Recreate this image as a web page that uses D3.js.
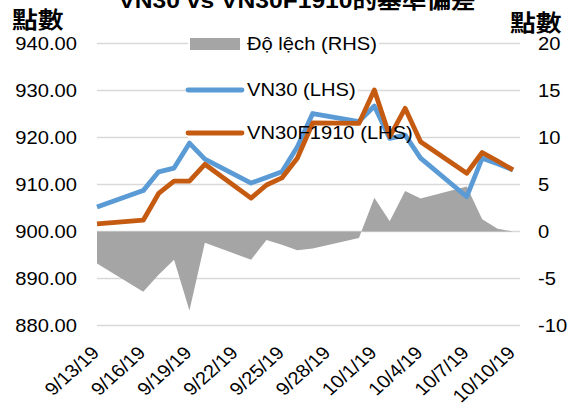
<!DOCTYPE html>
<html lang="en">
<head>
<meta charset="UTF-8">
<title>VN30 vs VN30F1910</title>
<style>
    body { margin: 0; background: #fff; }
    text { font-family: "Liberation Sans", Arial, "Noto Sans CJK TC", sans-serif; }
</style>
</head>
<body>
<script src="https://d3js.org/d3.v7.min.js"></script>
<svg id="chart"></svg>
<script>
    // trading days and values
    var dates = ["2019-09-13", "2019-09-16", "2019-09-17", "2019-09-18", "2019-09-19", "2019-09-20",
                 "2019-09-23", "2019-09-24", "2019-09-25", "2019-09-26", "2019-09-27", "2019-09-30",
                 "2019-10-01", "2019-10-02", "2019-10-03", "2019-10-04", "2019-10-07", "2019-10-08",
                 "2019-10-09", "2019-10-10"];
    var vn30  = [905.2, 908.7, 912.7, 913.5, 918.8, 915.4, 910.3, 911.5, 912.7, 918.0,
                 925.1, 923.4, 926.7, 919.8, 920.5, 915.6, 907.4, 915.6, 914.4, 913.1];
    var vn30f = [901.6, 902.4, 908.1, 910.7, 910.7, 914.3, 907.1, 909.9, 911.4, 915.6,
                 923.1, 923.0, 930.1, 920.2, 926.2, 919.1, 912.4, 916.8, 915.0, 913.1];
    var basis = [-3.4, -6.4, -4.6, -3.0, -8.4, -1.2, -3.0, -0.9, -1.4, -2.0,
                 -1.8, -0.7, 3.6, 1.1, 4.3, 3.5, 4.8, 1.3, 0.3, 0.0];
    var xTickDates = ["2019-09-13", "2019-09-16", "2019-09-19", "2019-09-22", "2019-09-25",
                      "2019-09-28", "2019-10-01", "2019-10-04", "2019-10-07", "2019-10-10"];
    var leftTicks = [880, 890, 900, 910, 920, 930, 940];
    var rightTicks = [-10, -5, 0, 5, 10, 15, 20];
    var legendLabels = ["Độ lệch (RHS)", "VN30 (LHS)", "VN30F1910 (LHS)"];

    var W = 579, H = 410,
        sx = 1.12,                // picture is a bit wider than tall
        plotLeft = 97, plotRight = 520, lastX = 513;
    var colors = {basis: "#a5a5a5", vn30: "#5b9bd5", vn30f: "#c55a11"};

    var parse = d3.timeParse("%Y-%m-%d");
    var data = dates.map(function(d, i) {
        return {date: parse(d), vn30: vn30[i], vn30f: vn30f[i], basis: basis[i]};
    });

    var svg = d3.select("#chart").attr("width", W).attr("height", H);

    var x = d3.scaleTime()
        .domain([parse(dates[0]), parse(dates[dates.length - 1])])
        .range([plotLeft, lastX]);
    var yL = d3.scaleLinear().domain([880, 940]).range([325.5, 43.5]);
    var yR = d3.scaleLinear().domain([-10, 20]).range([325.5, 43.5]);

    // gridlines
    svg.append("g")
        .selectAll("line")
        .data(leftTicks)
        .join("line")
            .attr("x1", plotLeft).attr("x2", plotRight)
            .attr("y1", function(d) { return yL(d); })
            .attr("y2", function(d) { return yL(d); })
            .attr("stroke", "#d9d9d9")
            .attr("stroke-width", 1.3);

    // left axis
    var gL = svg.append("g")
        .attr("transform", `translate(${plotLeft},0)`)
        .call(d3.axisLeft(yL).tickValues(leftTicks).tickFormat(d3.format(".2f")).tickSize(0));
    gL.select(".domain").remove();
    gL.selectAll("text")
        .attr("x", 0).attr("dy", "0.35em")
        .attr("transform", `translate(-20,0) scale(${sx},1)`)
        .attr("fill", "#000")
        .style("font-size", "18px");

    // right axis (plain hyphen for negatives, like the original)
    var gR = svg.append("g")
        .attr("transform", `translate(${plotRight},0)`)
        .call(d3.axisRight(yR).tickValues(rightTicks)
            .tickFormat(function(d) { return String(d); })
            .tickSize(0));
    gR.select(".domain").remove();
    gR.selectAll("text")
        .attr("x", 0).attr("dy", "0.35em")
        .attr("transform", `translate(18,0) scale(${sx},1)`)
        .attr("fill", "#000")
        .style("font-size", "18px");

    // bottom date axis, rotated labels
    var gX = svg.append("g")
        .attr("transform", "translate(0,342)")
        .call(d3.axisBottom(x)
            .tickValues(xTickDates.map(parse))
            .tickFormat(d3.timeFormat("%-m/%-d/%y"))
            .tickSize(0));
    gX.select(".domain").remove();
    gX.selectAll("text")
        .attr("x", 0).attr("y", 0).attr("dy", null)
        .attr("text-anchor", "end")
        .attr("transform", `translate(3,12) scale(${sx},1) rotate(-45)`)
        .attr("fill", "#000")
        .style("font-size", "18px");

    // legend backgrounds go under the series
    var legendBg = svg.append("g");

    // basis area on the right axis
    svg.append("path")
        .datum(data)
        .attr("fill", colors.basis)
        .attr("d", d3.area()
            .x(function(d) { return x(d.date); })
            .y0(yR(0))
            .y1(function(d) { return yR(d.basis); }));

    var line = function(key) {
        return d3.line()
            .x(function(d) { return x(d.date); })
            .y(function(d) { return yL(d[key]); });
    };
    ["vn30", "vn30f"].forEach(function(key) {
        svg.append("path")
            .datum(data)
            .attr("fill", "none")
            .attr("stroke", colors[key])
            .attr("stroke-width", 4.8)
            .attr("stroke-linejoin", "round")
            .attr("d", line(key));
    });

    // legend
    var legendKeys = ["basis", "vn30", "vn30f"],
        legendY = [44, 90, 133];
    legendLabels.forEach(function(label, i) {
        var g = svg.append("g").attr("transform", `translate(188,${legendY[i]})`);
        if (i === 0) {
            g.append("rect").attr("x", 2).attr("y", -6).attr("width", 50).attr("height", 12)
                .attr("fill", colors.basis);
        } else {
            g.append("line").attr("x1", 0).attr("x2", 54).attr("y1", 0).attr("y2", 0)
                .attr("stroke", colors[legendKeys[i]]).attr("stroke-width", 4.8)
                .attr("stroke-linecap", "round");
        }
        var t = g.append("text")
            .attr("x", 0).attr("dy", "0.35em")
            .attr("transform", `translate(59,0) scale(${sx},1)`)
            .style("font-size", "18px")
            .text(label);
        var w = t.node().getBBox().width * sx;
        legendBg.append("rect")
            .attr("x", 188).attr("y", legendY[i] - 10)
            .attr("width", 59 + w + 2).attr("height", 20)
            .attr("fill", "#fff");
    });

    // titles (the chart title is cut by the top edge in the original)
    svg.append("text")
        .attr("transform", `translate(297,8) scale(${sx},1)`)
        .attr("text-anchor", "middle")
        .style("font-size", "22px").style("font-weight", "bold")
        .text("VN30 vs VN30F1910的基準偏差");
    svg.append("text")
        .attr("transform", `translate(12,28) scale(${sx},1)`)
        .style("font-size", "23px").style("font-weight", "bold")
        .text("點數");
    svg.append("text")
        .attr("transform", `translate(510,31) scale(${sx},1)`)
        .style("font-size", "23px").style("font-weight", "bold")
        .text("點數");
</script>
</body>
</html>
